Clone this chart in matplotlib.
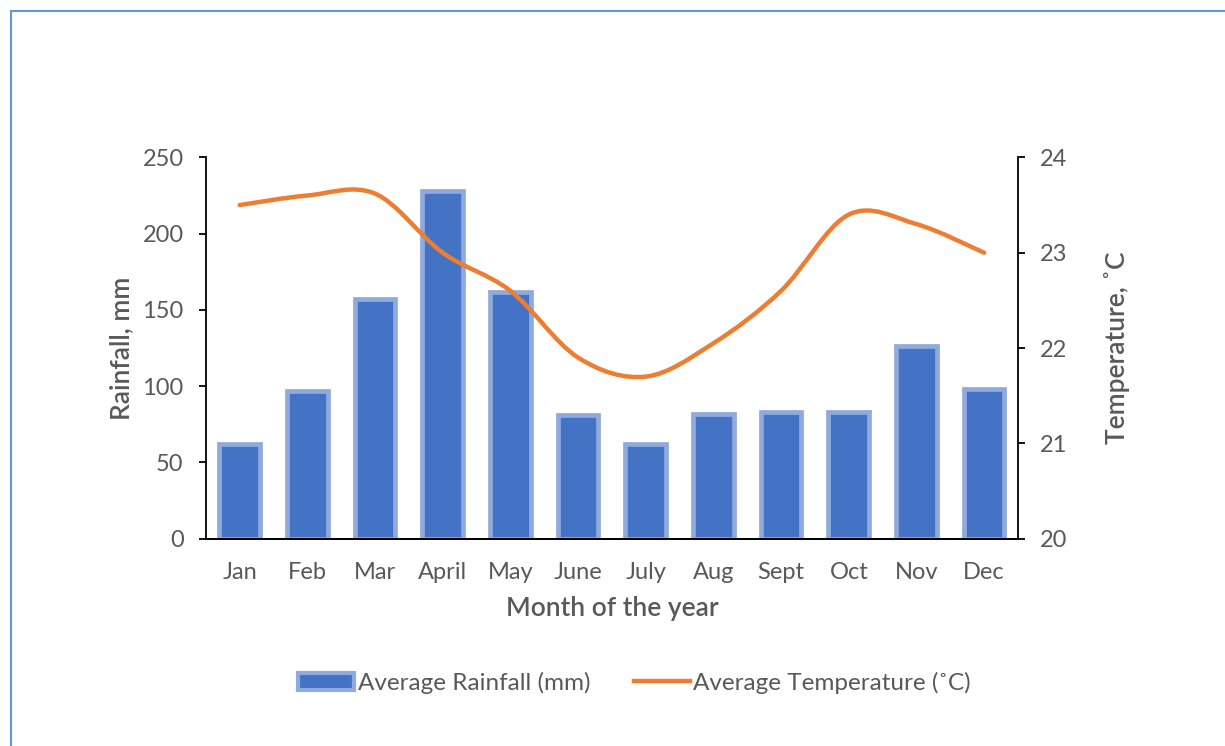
import numpy as np
import matplotlib.pyplot as plt
from matplotlib.path import Path
from matplotlib.patches import PathPatch, Patch
from matplotlib.lines import Line2D

months = ['Jan', 'Feb', 'Mar', 'April', 'May', 'June', 'July', 'Aug', 'Sept', 'Oct', 'Nov', 'Dec']
rainfall = [62, 97, 157, 228, 162, 81, 62, 82, 83, 83, 126, 98]
temperature = [23.5, 23.6, 23.62, 23.0, 22.6, 21.9, 21.7, 22.05, 22.6, 23.4, 23.3, 23.0]

TEXT = '#595959'
BAR_FACE = '#4472C4'
BAR_EDGE = '#8FAADC'
ORANGE = '#ED7D31'

plt.rcParams['font.family'] = ['Lato', 'DejaVu Sans']


def smooth_path(xs, ys):
    # bezier segments through every point, like a spreadsheet "smoothed line"
    pts = list(zip(xs, ys))
    verts = [pts[0]]
    codes = [Path.MOVETO]
    n = len(pts)
    for i in range(n - 1):
        p0 = pts[i - 1] if i > 0 else pts[i]
        p1 = pts[i]
        p2 = pts[i + 1]
        p3 = pts[i + 2] if i + 2 < n else pts[i + 1]
        c1 = (p1[0] + (p2[0] - p0[0]) / 6, p1[1] + (p2[1] - p0[1]) / 6)
        c2 = (p2[0] - (p3[0] - p1[0]) / 6, p2[1] - (p3[1] - p1[1]) / 6)
        verts += [c1, c2, p2]
        codes += [Path.CURVE4] * 3
    return Path(verts, codes)


fig = plt.figure(figsize=(12.25, 7.46), dpi=100)
ax = fig.add_axes([0.168, 0.278, 0.663, 0.511])
x = np.arange(len(months))

ax.bar(x, rainfall, width=0.6, color=BAR_FACE, edgecolor=BAR_EDGE, linewidth=3.4, zorder=2)
ax.set_xlim(-0.5, len(months) - 0.5)
ax.set_ylim(0, 250)
ax.set_yticks(range(0, 251, 50))
ax.set_xticks(x)
ax.set_xticklabels(months)

ax2 = ax.twinx()
ax2.set_ylim(20, 24)
ax2.set_yticks(range(20, 25))
line = PathPatch(smooth_path(x, temperature), facecolor='none', edgecolor=ORANGE,
                 linewidth=3.2, capstyle='round', zorder=3)
ax2.add_patch(line)

for a in (ax, ax2):
    a.spines['top'].set_visible(False)
    for s in a.spines.values():
        s.set_color('black')
        s.set_linewidth(1.3)
    a.tick_params(axis='y', colors='black', labelcolor=TEXT, labelsize=17,
                  length=5, width=1.3, pad=11)
ax.spines['right'].set_visible(False)
ax2.spines['left'].set_visible(False)
ax.tick_params(axis='x', length=0, labelcolor=TEXT, labelsize=17, pad=16.5)

ax.set_xlabel('Month of the year', color=TEXT, fontsize=19, fontweight='semibold', labelpad=10)
ax.set_ylabel('Rainfall, mm', color=TEXT, fontsize=19, fontweight='semibold', labelpad=6)
ax2.set_ylabel('Temperature, \u02daC', color=TEXT, fontsize=19, fontweight='semibold', labelpad=26)

handles = [Patch(facecolor=BAR_FACE, edgecolor=BAR_EDGE, linewidth=3),
           Line2D([0], [0], color=ORANGE, linewidth=3.2)]
fig.legend(handles, ['Average Rainfall (mm)', 'Average Temperature (\u02daC)'],
           loc='center', bbox_to_anchor=(0.518, 0.085), ncol=2, frameon=False,
           fontsize=17.5, labelcolor=TEXT, handlelength=2.3, handletextpad=0.15,
           columnspacing=1.8)

# thin blue frame along the top and left edges
fig.add_artist(Line2D([0.009, 1.0], [0.985, 0.985], transform=fig.transFigure,
                      color='#5B9BD5', linewidth=1.5))
fig.add_artist(Line2D([0.009, 0.009], [0.0, 0.985], transform=fig.transFigure,
                      color='#5B9BD5', linewidth=1.5))

fig.savefig('out.png', dpi=100)
